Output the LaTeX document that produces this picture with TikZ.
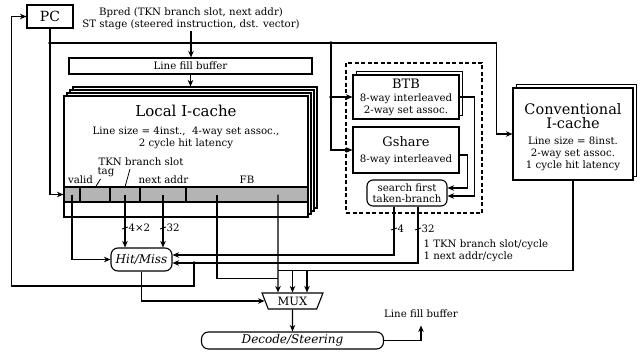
\documentclass[tikz,border=0pt]{standalone}
\usepackage{fontspec}
\setmainfont{DejaVu Serif}
\usetikzlibrary{arrows.meta,calc,shapes.geometric}
\definecolor{fieldgray}{HTML}{B4B4B4}

\newcommand\buswidth[2]{%
  \draw[line width=.8pt] ($(#1)+(-3,1)$) -- ($(#1)+(3,-1)$);
  \node[txt,anchor=west,inner sep=0pt] at ($(#1)+(3,0)$) {#2};}

\begin{document}
\begin{tikzpicture}[
  x=1pt,y=-1pt,line width=1.1pt,
  txt/.style={font=\fontsize{10.2}{12}\selectfont,align=center,inner sep=1pt},
  head/.style={font=\fontsize{15}{15}\selectfont,align=center,inner sep=1pt},
  subhead/.style={font=\fontsize{13}{14}\selectfont,align=center,inner sep=1pt},
  box/.style={draw,fill=white,inner sep=0pt,align=center},
  field/.style={draw,fill=fieldgray,inner sep=0pt,minimum height=15pt},
  pill/.style={draw,fill=white,rounded corners=7pt,inner sep=0pt,align=center},
  arr/.style={-{Stealth[length=6.5pt,width=5.5pt,inset=2pt]}},
  dot/.style={circle,fill,inner sep=0pt,minimum size=3.6pt}
]
\useasboundingbox (0,0) rectangle (641,353);

% fetch address
\node[box,minimum width=46pt,minimum height=23pt,font=\fontsize{14}{14}\selectfont] (pc) at (50,16.5) {PC};
\node[txt] (bpred) at (191,18.5) {Bpred (TKN branch slot, next addr)\\ST stage (steered instruction, dst. vector)};
\node[box,minimum width=243pt,minimum height=16pt,font=\fontsize{10.2}{12}\selectfont] (lfb) at (190.5,66) {Line fill buffer};

% local I-cache stack
\foreach \k in {3,2,1}{
  \node[box,minimum width=244pt,minimum height=121pt] (lic\k) at ({186+3*\k},{156.5-3*\k}) {};
}
\node[box,minimum width=244pt,minimum height=121pt] (lic) at (186,156.5) {};
\node[head] (lictitle) at (186,111) {Local I-cache};
\node[txt] (licinfo) at (186,138) {Line size = 4inst.,\ \ 4-way set assoc.,\\2 cycle hit latency};
\foreach \name/\xa/\xb in {valid/64/80,tag/80/110,slot/110/140,addr/140/186,fb/186/308}{
  \node[field,minimum width={(\xb-\xa)*1pt}] (f\name) at ({(\xa+\xb)/2},194.5) {};
}
\node[txt] (lvalid) at (80.5,180) {valid};
\node[txt] (ltag) at (106,172.5) {tag};
\node[txt] (lslot) at (141,161.5) {TKN branch slot};
\node[txt] (laddr) at (163.5,180) {next addr};
\node[txt] (lfbf) at (247,180) {FB};
\draw[line width=.8pt] (95.5,187) -- (100.5,179);
\draw[line width=.8pt] (125,187) -- (130,169);
\coordinate (fbA) at (217,194.5);
\coordinate (fbB) at (278,194.5);

% branch prediction unit
\node[draw,dash pattern=on 4pt off 2.5pt,minimum width=136pt,minimum height=150pt] (bpu) at (414,138) {};
\node[box,minimum width=106pt,minimum height=44pt] (btb1) at (409.5,93.5) {};
\node[box,minimum width=106pt,minimum height=44pt] (btb) at (406,97) {};
\node[subhead] (btbt) at (406,84) {BTB};
\node[txt] at (406,105) {8-way interleaved\\2-way set assoc.};
\node[box,minimum width=106pt,minimum height=46pt] (gshare) at (406,150) {};
\node[subhead] (gsharet) at (406,142) {Gshare};
\node[txt] at (406,159.5) {8-way interleaved};
\node[pill,minimum width=80pt,minimum height=26pt,rounded corners=6pt,font=\fontsize{10.2}{11}\selectfont] (search) at (407,193) {search first\\taken-branch};
\coordinate (s4) at ([xshift=-13pt]search.south);
\coordinate (s32) at ([xshift=11pt]search.south);

% conventional I-cache
\node[box,minimum width=120pt,minimum height=92pt] (conv1) at (576.5,130.5) {};
\node[box,minimum width=120pt,minimum height=92pt] (conv) at (573,134) {};
\node[head,font=\fontsize{14.5}{14.5}\selectfont] at (573,116) {Conventional\\I-cache};
\node[txt,font=\fontsize{10.2}{11.8}\selectfont] at (573,154) {Line size = 8inst.\\2-way set assoc.\\1 cycle hit latency};

% lower stage
\node[pill,minimum width=61pt,minimum height=23pt,font=\itshape\fontsize{12}{13}\selectfont] (hm) at (141.5,259.5) {Hit/Miss};
\node[draw,fill=white,trapezium,trapezium stretches=true,shape border rotate=180,
  trapezium angle=66,minimum width=61pt,minimum height=16pt,inner sep=0pt,
  font=\fontsize{11.5}{12}\selectfont] (mux) at (292.5,301) {MUX};
\node[pill,minimum width=182pt,minimum height=17pt,font=\itshape\fontsize{12}{13}\selectfont] (dec) at (292.5,340.5) {Decode/Steering};
\node[txt] (lfbl) at (421,314) {Line fill buffer};
\node[txt,align=left,anchor=west] (rate) at (422,251) {1 TKN branch slot/cycle\\1 next addr/cycle};

% connectors
\coordinate (j1) at (50,43);
\coordinate (j2) at (331,43);
\coordinate (j3) at (331,97);
\coordinate (j4) at (194,263);
\draw[arr] (bpred.south) -- (bpred.south |- lfb.north);
\draw[arr] (lfb.south) -- (lfb.south |- lic3.north);
\draw[arr] (pc.south) |- (fvalid.west);
\draw[arr] (j1) -| ([xshift=-16pt]conv.west) -- (conv.west);
\draw[arr] (j2) |- (btb.west);
\draw[arr] (j3) |- (gshare.west);
\draw[arr] (btb.east) -- ++(15,0) |- ([yshift=-3pt]search.east);
\draw[arr] ([yshift=-5pt]gshare.east) -- ++(8,0) |- ([yshift=5pt]search.east);
\draw[arr] (fvalid.center) |- (hm.west);
\draw[arr] (fslot.center) -- (fslot.center |- hm.north);
\draw[arr] (faddr.center) -- (faddr.center |- hm.north);
\draw[arr] (s4) |- ([yshift=4.5pt]hm.east);
\draw[arr] (s32) |- ([yshift=-3.5pt]hm.east);
\draw[arr] (j4) -- ++(0,23) -| ([xshift=-15pt]pc.west) -- (pc.west);
\draw[arr] (fbB) -- ([xshift=-14.5pt]mux.north);
\draw (fbA) |- ([xshift=-14.5pt,yshift=14pt]mux.north);
\draw (conv.south) |- ([xshift=-14.5pt,yshift=22pt]mux.north);
\draw[arr] ([yshift=22pt]mux.north) -- (mux.north);
\draw[arr] ([xshift=14.5pt,yshift=22pt]mux.north) -- ([xshift=14.5pt]mux.north);
\draw[arr] (hm.south) |- (mux.west);
\draw[arr] (mux.south) -- (dec.north);
\draw[arr] (dec.east) -| ([yshift=-6pt]lfbl.south);
\foreach \j in {j1,j2,j3,j4} \node[dot] at (\j) {};

% bus widths
\buswidth{fslot.center |- 0,228}{4×2}
\buswidth{faddr.center |- 0,228}{32}
\buswidth{s4 |- 0,229}{4}
\buswidth{s32 |- 0,229}{32}
\end{tikzpicture}
\end{document}
